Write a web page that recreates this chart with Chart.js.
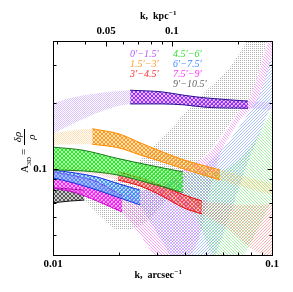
<!DOCTYPE html>
<html>
<head>
<meta charset="utf-8">
<script src="https://cdn.jsdelivr.net/npm/chart.js@4.4.1/dist/chart.umd.min.js"></script>
<style>
html, body { margin: 0; padding: 0; background: #fff; }
canvas { display: block; }
</style>
</head>
<body>
<canvas id="chart" width="293" height="292"></canvas>
<script>
// Band edges: k in arcsec^-1, A3D upper (Hi) / lower (Lo)

// 0'-1.5'
var purpleLightK = [0.01, 0.0126, 0.0159, 0.02, 0.0225];
var purpleLightHi = [0.201, 0.214, 0.223, 0.228, 0.230];
var purpleLightLo = [0.145, 0.163, 0.181, 0.195, 0.199];
var purpleK = [0.0225, 0.0315, 0.0397, 0.05, 0.0777];
var purpleHi = [0.230, 0.226, 0.218, 0.212, 0.205];
var purpleLo = [0.199, 0.199, 0.197, 0.192, 0.190];
var purpleTailK = [0.0777, 0.1];
var purpleTailHi = [0.205, 0.203];
var purpleTailLo = [0.190, 0.186];

// 1.5'-3'
var orangeLightK = [0.01, 0.0126, 0.0151];
var orangeLightHi = [0.146, 0.151, 0.153];
var orangeLightLo = [0.129, 0.130, 0.130];
var orangeK = [0.0151, 0.02, 0.025, 0.0315, 0.0397, 0.05, 0.0579];
var orangeHi = [0.153, 0.145, 0.132, 0.120, 0.110, 0.103, 0.099];
var orangeLo = [0.130, 0.125, 0.116, 0.108, 0.100, 0.093, 0.089];
var orangeTailK = [0.0579, 0.0794, 0.1];
var orangeTailHi = [0.099, 0.091, 0.086];
var orangeTailLo = [0.089, 0.081, 0.076];

// 3'-4.5'
var redLightK = [0.01, 0.0159, 0.0198];
var redLightHi = [0.105, 0.101, 0.097];
var redLightLo = [0.097, 0.094, 0.089];
var redK = [0.0198, 0.025, 0.0315, 0.0397, 0.0479];
var redHi = [0.097, 0.091, 0.0836, 0.076, 0.0713];
var redLo = [0.089, 0.0836, 0.0752, 0.0662, 0.0622];
var redTailK = [0.0479, 0.0623, 0.0819, 0.1];
var redTailHi = [0.0713, 0.0691, 0.0684, 0.0691];
var redTailLo = [0.0622, 0.0536, 0.0425, 0.0391];

// 4.5'-6'
var greenK = [0.01, 0.0137, 0.0196, 0.0277, 0.0392];
var greenHi = [0.126, 0.122, 0.112, 0.104, 0.097];
var greenLo = [0.099, 0.098, 0.094, 0.086, 0.078];
var greenTailK = [0.0392, 0.0445, 0.0494, 0.0538, 0.063, 0.0737, 0.0836, 0.0929, 0.1];
var greenTailHi = [0.097, 0.0959, 0.0949, 0.0959, 0.101, 0.116, 0.136, 0.163, 0.187];
var greenTailLo = [0.078, 0.0615, 0.0483, 0.0399, 0.0337, 0.0399, 0.0498, 0.0615, 0.0721];

// 6'-7.5'
var blueK = [0.01, 0.0126, 0.0159, 0.0196, 0.025];
var blueHi = [0.099, 0.0959, 0.0919, 0.086, 0.080];
var blueLo = [0.091, 0.086, 0.080, 0.0744, 0.0684];
var blueTailK = [0.025, 0.0308, 0.038, 0.0469, 0.0549, 0.0643, 0.0753, 0.0836, 0.09, 0.0949, 0.1];
var blueTailHi = [0.080, 0.0836, 0.091, 0.101, 0.1135, 0.136, 0.171, 0.201, 0.235, 0.282, 0.333];
var blueTailLo = [0.0684, 0.0483, 0.0344, 0.0326, 0.0403, 0.0615, 0.099, 0.129, 0.154, 0.177, 0.197];

// 7.5'-9'
var magentaK = [0.01, 0.0126, 0.0159, 0.0207];
var magentaHi = [0.097, 0.093, 0.0872, 0.0752];
var magentaLo = [0.0818, 0.078, 0.0713, 0.0635];
var magentaTailK = [0.0207, 0.025, 0.0292, 0.0342, 0.0401, 0.0469, 0.0521, 0.0579, 0.0643, 0.0714, 0.0794, 0.0854, 0.09, 0.0949, 0.1];
var magentaTailHi = [0.0752, 0.0784, 0.0827, 0.091, 0.101, 0.110, 0.120, 0.136, 0.159, 0.187, 0.216, 0.2615, 0.310, 0.371, 0.4435];
var magentaTailLo = [0.0635, 0.0498, 0.0399, 0.0351, 0.0375, 0.0498, 0.080, 0.116, 0.143, 0.168, 0.187, 0.207, 0.235, 0.2756, 0.333];

// 9'-10.5'
var grayK = [0.01, 0.012, 0.0139];
var grayHi = [0.082, 0.081, 0.080];
var grayLo = [0.070, 0.0713, 0.072];
var grayTailK = [0.0139, 0.0164, 0.0202, 0.025, 0.0277, 0.0342, 0.0401, 0.0455, 0.0521, 0.0623, 0.0714, 0.0794, 0.0854, 0.0949, 0.1];
var grayTailHi = [0.080, 0.0836, 0.093, 0.110, 0.122, 0.151, 0.181, 0.207, 0.238, 0.282, 0.344, 0.412, 0.483, 0.596, 0.662];
var grayTailLo = [0.072, 0.0609, 0.0525, 0.0548, 0.0596, 0.076, 0.091, 0.1065, 0.122, 0.156, 0.187, 0.216, 0.2615, 0.387, 0.458];

// axes
var xLabels = [0.01, 0.1];
var xMinor = [0.02, 0.03, 0.04, 0.05, 0.06, 0.07, 0.08, 0.09];
var topLabels = [0.05, 0.1];           // kpc^-1
var topMinor = [0.03, 0.04, 0.06, 0.07, 0.08, 0.09, 0.2];
var kpcPerArcsec = 2.862;
var yLabels = [0.1];
var yMinor = [0.05, 0.06, 0.07, 0.08, 0.09, 0.2, 0.3];

var annuli = ['0\u2032\u22121.5\u2032', '1.5\u2032\u22123\u2032', '3\u2032\u22124.5\u2032',
              '4.5\u2032\u22126\u2032', '6\u2032\u22127.5\u2032', '7.5\u2032\u22129\u2032', '9\u2032\u221210.5\u2032'];
var annulusColors = ['#b35cff', '#ff9f2e', '#ff3030', '#33dd33', '#3d8cff', '#ff2eff', '#666666'];

var canvas = document.getElementById('chart');
var mainCtx = canvas.getContext('2d');

function makePattern(color, style, alpha) {
    var c = document.createElement('canvas');
    var size = style === 'cross' ? 4 : (style === 'dots' || style === 'stipple' ? 2 : 3);
    c.width = c.height = size;
    var g = c.getContext('2d');
    var i;
    g.fillStyle = color;
    if (style === 'cross') {
        g.globalAlpha = 0.3;
        g.fillRect(0, 0, 4, 4);
        g.globalAlpha = 1;
        for (i = 0; i < 4; i++) { g.fillRect(i, i, 1, 1); g.fillRect(3 - i, i, 1, 1); }
    } else if (style === 'dots') {
        g.globalAlpha = alpha;
        g.fillRect(0, 0, 1, 1);
        g.fillRect(1, 1, 1, 1);
    } else if (style === 'stipple') {
        g.globalAlpha = alpha;
        g.fillRect(0, 0, 1, 1);
    } else {
        g.globalAlpha = alpha;
        for (i = 0; i < 3; i++) {
            if (style === 'back') g.fillRect(i, i, 1, 1); else g.fillRect(2 - i, i, 1, 1);
        }
    }
    return mainCtx.createPattern(c, 'repeat');
}

// top of list is drawn on top
var pieces = [
    {k: purpleK, hi: purpleHi, lo: purpleLo, color: '#9a2cff', edge: '#2b0f8f', style: 'cross'},
    {k: orangeK, hi: orangeHi, lo: orangeLo, color: '#ff9a1a', edge: '#ff8c00', style: 'cross'},
    {k: greenK, hi: greenHi, lo: greenLo, color: '#22ee22', edge: '#1a7a1a', style: 'cross'},
    {k: redK, hi: redHi, lo: redLo, color: '#ff4444', edge: '#ee0000', style: 'cross'},
    {k: blueK, hi: blueHi, lo: blueLo, color: '#3f8fff', edge: '#1530dd', style: 'cross'},
    {k: magentaK, hi: magentaHi, lo: magentaLo, color: '#ff1aff', edge: '#cc00cc', style: 'cross'},
    {k: grayK, hi: grayHi, lo: grayLo, color: '#555555', edge: '#111111', style: 'cross'},
    {k: purpleLightK, hi: purpleLightHi, lo: purpleLightLo, color: '#a066ff', edge: null, style: 'dots', alpha: 0.4},
    {k: orangeLightK, hi: orangeLightHi, lo: orangeLightLo, color: '#ffb040', edge: null, style: 'dots', alpha: 0.4},
    {k: redLightK, hi: redLightHi, lo: redLightLo, color: '#ff6060', edge: null, style: 'dots', alpha: 0.3},
    {k: purpleTailK, hi: purpleTailHi, lo: purpleTailLo, color: '#a066ff', edge: null, style: 'dots', alpha: 0.3},
    {k: orangeTailK, hi: orangeTailHi, lo: orangeTailLo, color: '#ffb040', edge: null, style: 'dots', alpha: 0.35},
    {k: redTailK, hi: redTailHi, lo: redTailLo, color: '#ff4040', edge: null, style: 'fwd', alpha: 0.4},
    {k: greenTailK, hi: greenTailHi, lo: greenTailLo, color: '#22dd22', edge: null, style: 'back', alpha: 0.4},
    {k: blueTailK, hi: blueTailHi, lo: blueTailLo, color: '#4477ff', edge: null, style: 'fwd', alpha: 0.45},
    {k: magentaTailK, hi: magentaTailHi, lo: magentaTailLo, color: '#ff30ff', edge: null, style: 'back', alpha: 0.45},
    {k: grayTailK, hi: grayTailHi, lo: grayTailLo, color: '#555555', edge: null, style: 'stipple', alpha: 0.45}
];

var datasets = [];
pieces.forEach(function (p) {
    var lowIndex = datasets.length;
    var lineStyle = {
        pointRadius: 0,
        borderWidth: p.edge ? 1 : 0,
        borderColor: p.edge || 'rgba(0,0,0,0)',
        cubicInterpolationMode: 'monotone'
    };
    datasets.push(Object.assign({
        data: p.k.map(function (k, i) { return {x: k, y: p.lo[i]}; }),
        fill: false
    }, lineStyle));
    datasets.push(Object.assign({
        data: p.k.map(function (k, i) { return {x: k, y: p.hi[i]}; }),
        fill: lowIndex,
        backgroundColor: makePattern(p.color, p.style, p.alpha)
    }, lineStyle));
});

function drawSup(ctx, base, sup, x, y, font, supFont) {
    ctx.font = font;
    var w1 = ctx.measureText(base).width;
    ctx.font = supFont;
    var w2 = ctx.measureText(sup).width;
    var x0 = x - (w1 + w2) / 2;
    ctx.font = font;
    ctx.fillText(base, x0, y);
    ctx.font = supFont;
    ctx.fillText(sup, x0 + w1 + 0.5, y - 4);
}

var decor = {
    id: 'decor',
    afterDraw: function (chart) {
        var ctx = chart.ctx, a = chart.chartArea;
        var sx = chart.scales.x, sx2 = chart.scales.x2, sy = chart.scales.y;
        var L = Math.round(a.left) + 0.5, R = Math.round(a.right) + 0.5;
        var T = Math.round(a.top) + 0.5, B = Math.round(a.bottom) + 0.5;
        ctx.save();
        ctx.strokeStyle = '#000';
        ctx.lineWidth = 1;
        ctx.strokeRect(L, T, R - L, B - T);
        ctx.beginPath();
        function vt(px, y0, len) { px = Math.round(px) + 0.5; ctx.moveTo(px, y0); ctx.lineTo(px, y0 + len); }
        function ht(py, x0, len) { py = Math.round(py) + 0.5; ctx.moveTo(x0, py); ctx.lineTo(x0 + len, py); }
        xLabels.forEach(function (v) { vt(sx.getPixelForValue(v), B, -5); });
        xMinor.forEach(function (v) { vt(sx.getPixelForValue(v), B, -3); });
        topLabels.forEach(function (v) { vt(sx2.getPixelForValue(v), T, 5); });
        topMinor.forEach(function (v) { vt(sx2.getPixelForValue(v), T, 3); });
        yLabels.forEach(function (v) { var p = sy.getPixelForValue(v); ht(p, L, 5); ht(p, R, -5); });
        yMinor.forEach(function (v) { var p = sy.getPixelForValue(v); ht(p, L, 3); ht(p, R, -3); });
        ctx.stroke();

        // legend
        ctx.font = 'italic 10px "Liberation Serif", serif';
        ctx.textBaseline = 'middle';
        ctx.textAlign = 'left';
        annuli.forEach(function (t, i) {
            ctx.fillStyle = annulusColors[i];
            var col = i < 3 ? 0 : 1, row = i < 3 ? i : i - 3;
            ctx.fillText(t, col ? 173 : 130, 54 + row * 10);
        });

        // axis titles
        ctx.fillStyle = '#000';
        ctx.textBaseline = 'alphabetic';
        drawSup(ctx, 'k,  arcsec', '\u22121', 158, 278, 'bold 10px "Liberation Serif", serif', 'bold 7px "Liberation Serif", serif');
        drawSup(ctx, 'k,  kpc', '\u22121', 158, 19, 'bold 10px "Liberation Serif", serif', 'bold 7px "Liberation Serif", serif');

        ctx.translate(24, 146);
        ctx.rotate(-Math.PI / 2);
        ctx.font = '11px "Liberation Serif", serif';
        ctx.textAlign = 'left';
        ctx.fillText('A', -27, 4);
        ctx.font = '7px "Liberation Serif", serif';
        ctx.fillText('3D', -19.5, 7);
        ctx.font = '11px "Liberation Serif", serif';
        ctx.fillText('=', -9, 3);
        ctx.font = 'italic 11px "Liberation Serif", serif';
        ctx.textAlign = 'center';
        ctx.fillText('\u03b4\u03c1', 9, -3);
        ctx.fillText('\u03c1', 9, 11);
        ctx.beginPath();
        ctx.moveTo(1, 0.5);
        ctx.lineTo(17, 0.5);
        ctx.stroke();
        ctx.restore();
    }
};

var tickFont = {family: '"Liberation Serif", serif', size: 11, weight: 'bold'};

new Chart(mainCtx, {
    type: 'line',
    data: {datasets: datasets},
    options: {
        responsive: false,
        animation: false,
        devicePixelRatio: 1,
        layout: {padding: {left: 0, right: 21, top: 0, bottom: 0}},
        plugins: {legend: {display: false}, tooltip: {enabled: false}},
        scales: {
            x: {
                type: 'logarithmic', position: 'bottom', min: 0.01, max: 0.1, bounds: 'data',
                grid: {display: false, drawTicks: false}, border: {display: false},
                afterBuildTicks: function (s) { s.ticks = xLabels.map(function (v) { return {value: v}; }); },
                afterFit: function (s) { s.height = 37; },
                ticks: {color: '#000', font: tickFont, padding: 3, maxRotation: 0, autoSkip: false,
                    callback: function (v) { return String(v); }}
            },
            x2: {
                type: 'logarithmic', position: 'top',
                min: 0.01 * kpcPerArcsec, max: 0.1 * kpcPerArcsec, bounds: 'data',
                grid: {display: false, drawTicks: false}, border: {display: false},
                afterBuildTicks: function (s) { s.ticks = topLabels.map(function (v) { return {value: v}; }); },
                afterFit: function (s) { s.height = 41; },
                ticks: {color: '#000', font: tickFont, padding: 3, maxRotation: 0, autoSkip: false,
                    callback: function (v) { return String(v); }}
            },
            y: {
                type: 'logarithmic', position: 'left', min: 0.0403, max: 0.387, bounds: 'data',
                grid: {display: false, drawTicks: false}, border: {display: false},
                afterBuildTicks: function (s) { s.ticks = yLabels.map(function (v) { return {value: v}; }); },
                afterFit: function (s) { s.width = 53; },
                ticks: {color: '#000', font: tickFont, padding: 6, autoSkip: false,
                    callback: function (v) { return String(v); }}
            }
        }
    },
    plugins: [decor]
});
</script>
</body>
</html>
